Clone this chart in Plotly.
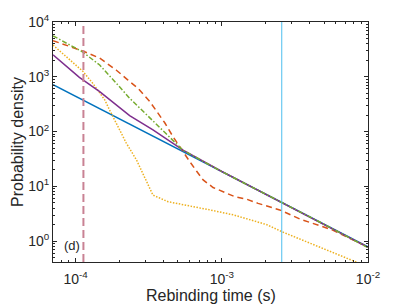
import plotly.graph_objects as go

# ---- data ----
t_blue = [7e-5, 1e-4, 2e-4, 5e-4, 1e-3, 2e-3, 5e-3, 1e-2]
p_blue = [718, 440, 170, 48.3, 18.7, 7.2, 2.05, 0.79]

t_red = [7e-5, 1.12e-4, 1.46e-4, 1.71e-4, 1.9e-4, 2.28e-4, 2.67e-4, 3.21e-4, 3.66e-4,
         4.07e-4, 4.63e-4, 5.3e-4, 6.04e-4, 6.71e-4, 7.45e-4, 8.71e-4, 1.02e-3, 1.23e-3,
         1.48e-3, 1.77e-3, 2.49e-3, 3.42e-3, 4.69e-3, 5.78e-3, 7.93e-3, 1e-2]
p_red = [4570, 2950, 2190, 1585, 1318, 871, 617, 355, 219,
         145, 81, 46, 28.2, 19.1, 13.1, 9.55, 7.94, 6.46,
         5.82, 4.90, 3.72, 2.54, 1.91, 1.58, 1.05, 0.79]

t_yellow = [7e-5, 1.12e-4, 1.31e-4, 1.58e-4, 1.71e-4, 2e-4, 2.22e-4, 2.61e-4, 2.97e-4,
            3.38e-4, 4.29e-4, 5.73e-4, 8.28e-4, 1.2e-3, 2.03e-3, 2.59e-3, 4.01e-3,
            7.14e-3, 1e-2]
p_yellow = [3800, 1260, 759, 380, 245, 107, 61.7, 30.2, 14.1,
            6.92, 5.25, 4.57, 3.72, 3.02, 2.0, 1.48, 0.91,
            0.49, 0.34]

t_purple = [7e-5, 1.06e-4, 1.46e-4, 2e-4, 2.34e-4, 3.38e-4, 5.43e-4, 1e-3, 2e-3, 5e-3, 1e-2]
p_purple = [2510, 977, 537, 269, 195, 107, 45.7, 18.7, 7.2, 2.05, 0.77]

t_green = [7e-5, 1.12e-4, 1.46e-4, 1.62e-4, 1.9e-4, 2.34e-4, 2.74e-4, 3.38e-4, 4.4e-4,
           5.43e-4, 1e-3, 2e-3, 5e-3, 1e-2]
p_green = [5600, 2820, 1640, 1230, 760, 407, 269, 162, 81,
           45.7, 18.6, 7.2, 2.04, 0.76]

t_pink_line = 1.13e-4
t_cyan_line = 2.57e-3

x_ticks = [1e-4, 1e-3, 1e-2]
x_ticktext = ["10<sup>-4</sup>", "10<sup>-3</sup>", "10<sup>-2</sup>"]
y_ticks = [1, 10, 100, 1000, 10000]
y_ticktext = ["10<sup>0</sup>", "10<sup>1</sup>", "10<sup>2</sup>", "10<sup>3</sup>", "10<sup>4</sup>"]

x_minor = [m * 10.0 ** e for e in (-5, -4, -3) for m in range(2, 10)]
y_minor = [m * 10.0 ** e for e in (-1, 0, 1, 2, 3) for m in range(2, 10)]

FONT = "Liberation Sans, Arial"

fig = go.Figure()

fig.add_trace(go.Scatter(x=t_blue, y=p_blue, mode="lines",
                         line=dict(color="#0072BD", width=1.5)))
fig.add_trace(go.Scatter(x=t_red, y=p_red, mode="lines",
                         line=dict(color="#D95319", width=1.5, dash="6px,4px")))
fig.add_trace(go.Scatter(x=t_yellow, y=p_yellow, mode="lines",
                         line=dict(color="#EDB120", width=1.5, dash="1.5px,1.5px")))
fig.add_trace(go.Scatter(x=t_purple, y=p_purple, mode="lines",
                         line=dict(color="#7E2F8E", width=1.5)))
fig.add_trace(go.Scatter(x=t_green, y=p_green, mode="lines",
                         line=dict(color="#77AC30", width=1.5, dash="5px,2px,1.5px,2px")))

fig.add_vline(x=t_pink_line, line=dict(color="#C98294", width=2, dash="8px,4px"))
fig.add_vline(x=t_cyan_line, line=dict(color="#4DBEEE", width=1))

fig.add_annotation(text="(d)", xref="paper", yref="paper", x=0.03, y=0.03,
                   xanchor="left", yanchor="bottom", showarrow=False,
                   font=dict(size=13, color="#262626", family=FONT))
fig.add_annotation(text="Rebinding time (s)", xref="paper", yref="paper", x=0.5, y=-0.1375,
                   xanchor="center", yanchor="middle", showarrow=False,
                   font=dict(size=16, color="#262626", family=FONT))

axis_common = dict(
    type="log", showgrid=False, zeroline=False,
    showline=True, linecolor="#262626", linewidth=1, mirror="allticks",
    ticks="inside", ticklen=4, tickcolor="#262626",
    tickfont=dict(size=14, color="#262626", family=FONT),
)

fig.update_xaxes(**axis_common, range=[-4.155, -2.0], tickvals=x_ticks, ticktext=x_ticktext,
                 ticklabelstandoff=4,
                 minor=dict(tickvals=x_minor, ticks="inside", ticklen=2, tickcolor="#262626"))
fig.update_yaxes(**axis_common, range=[-0.38, 4.0], tickvals=y_ticks, ticktext=y_ticktext,
                 minor=dict(tickvals=y_minor, ticks="inside", ticklen=2, tickcolor="#262626"),
                 title=dict(text="Probability density", standoff=0,
                            font=dict(size=16, color="#262626", family=FONT)))

fig.update_layout(
    width=407, height=305,
    margin=dict(l=53, r=39, t=22, b=43),
    paper_bgcolor="white", plot_bgcolor="white",
    showlegend=False,
    font=dict(family=FONT, color="#262626"),
)

fig.write_html("out.html", config={"displayModeBar": False},
               post_script="document.body.style.margin='0';document.body.style.overflow='hidden';")
